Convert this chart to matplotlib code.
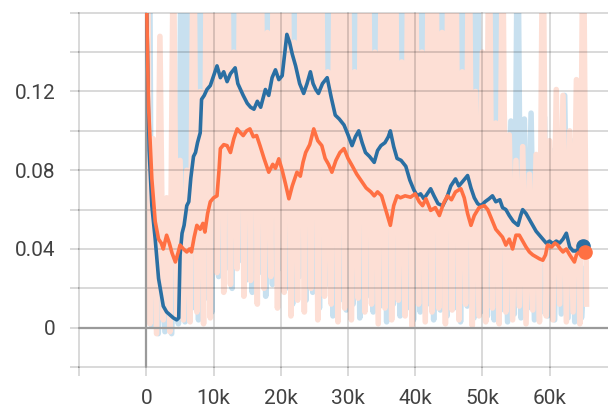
# -------------------------------------------------------------
# Import libraries
# -------------------------------------------------------------
import numpy as np
import matplotlib
matplotlib.use("Agg")
import matplotlib.pyplot as plt


# -------------------------------------------------------------
# Data (steps in thousands)
# -------------------------------------------------------------

# smoothed curves
blue_steps = [0, 0.4, 0.8, 1.3, 1.8, 2.5, 3.0, 3.5, 4.0, 4.5, 4.8, 5.0, 5.3, 5.6, 6.0, 6.3,
              6.6, 7.0, 7.3, 7.6, 8.0, 8.2, 8.6, 9.0, 9.5, 10.0, 10.5, 11.0, 11.5, 12.0,
              12.5, 13.2, 13.6, 14.0, 14.4, 15.0, 15.5, 16.0, 16.5, 17.0, 17.7, 18.2, 18.7,
              19.2, 19.7, 20.2, 20.6, 20.9, 21.3, 21.7, 22.2, 22.8, 23.4, 23.9, 24.4, 24.8,
              25.2, 25.6, 26.2, 26.9, 27.5, 28.1, 28.7, 29.4, 30.0, 30.6, 31.1, 31.6, 32.1,
              32.6, 33.2, 33.9, 34.4, 34.9, 35.5, 36.0, 36.3, 36.8, 37.3, 37.9, 38.6, 39.2,
              39.8, 40.3, 40.8, 41.3, 41.8, 42.3, 42.8, 43.4, 44.1, 44.7, 45.3, 46.0, 46.5,
              47.0, 47.8, 48.3, 48.8, 49.3, 49.8, 50.4, 51.0, 51.5, 52.0, 52.6, 53.0, 53.5,
              54.0, 54.6, 55.3, 55.7, 56.0, 56.5, 57.0, 57.5, 58.0, 58.5, 59.0, 59.5, 60.0,
              60.5, 61.0, 61.5, 62.0, 62.5, 63.0, 63.5, 64.0, 64.6, 65.0]
blue_smooth = [0.17, 0.09, 0.062, 0.045, 0.025, 0.011, 0.008, 0.0065, 0.005, 0.004, 0.005,
               0.037, 0.048, 0.052, 0.062, 0.064, 0.076, 0.087, 0.089, 0.094, 0.099, 0.116,
               0.118, 0.121, 0.123, 0.128, 0.133, 0.127, 0.130, 0.125, 0.129, 0.132, 0.124,
               0.121, 0.118, 0.114, 0.112, 0.111, 0.115, 0.112, 0.121, 0.118, 0.127, 0.131,
               0.126, 0.128, 0.140, 0.149, 0.145, 0.139, 0.133, 0.124, 0.119, 0.124, 0.130,
               0.124, 0.121, 0.119, 0.124, 0.127, 0.117, 0.108, 0.106, 0.103, 0.098, 0.0925,
               0.097, 0.100, 0.094, 0.089, 0.087, 0.084, 0.090, 0.0925, 0.094, 0.097, 0.100,
               0.092, 0.086, 0.085, 0.082, 0.075, 0.070, 0.067, 0.068, 0.0655, 0.068, 0.0706,
               0.067, 0.063, 0.062, 0.066, 0.072, 0.0756, 0.072, 0.074, 0.0773, 0.071, 0.066,
               0.063, 0.062, 0.064, 0.0655, 0.067, 0.064, 0.065, 0.061, 0.060, 0.057, 0.054,
               0.052, 0.057, 0.060, 0.058, 0.055, 0.052, 0.049, 0.047, 0.045, 0.043, 0.044,
               0.0427, 0.044, 0.043, 0.045, 0.048, 0.041, 0.039, 0.039, 0.041, 0.0415]

orange_steps = [0, 0.3, 0.8, 1.3, 1.8, 2.2, 2.5, 3.0, 3.4, 3.8, 4.3, 4.7, 5.0, 5.5, 6.0, 6.4,
                6.7, 7.1, 7.5, 8.0, 8.4, 8.7, 9.1, 9.5, 10.0, 10.5, 10.8, 11.0, 11.5, 12.0,
                12.5, 13.0, 13.5, 14.0, 14.4, 14.9, 15.4, 15.9, 16.4, 16.9, 17.5, 18.2, 18.8,
                19.2, 19.7, 20.2, 20.7, 21.2, 21.7, 22.4, 22.9, 23.3, 23.7, 24.3, 24.9, 25.5,
                26.1, 26.6, 27.1, 27.6, 28.2, 28.8, 29.4, 30.0, 30.6, 31.3, 32.1, 32.7, 33.4,
                33.9, 34.4, 35.0, 35.6, 36.3, 36.8, 37.3, 37.8, 38.5, 39.3, 40.0, 40.6, 41.1,
                41.6, 42.3, 43.0, 43.6, 44.2, 44.8, 45.4, 46.0, 46.8, 47.3, 47.8, 48.3, 48.8,
                49.5, 50.3, 50.8, 51.4, 52.0, 52.5, 53.0, 53.5, 54.0, 54.5, 55.0, 55.5, 56.0,
                56.5, 57.0, 57.5, 58.0, 58.5, 59.0, 59.4, 59.7, 60.3, 60.8, 61.2, 61.6, 62.0,
                62.5, 63.0, 63.4, 63.7, 64.0, 64.4, 64.9, 65.3]
orange_smooth = [0.17, 0.113, 0.0756, 0.054, 0.045, 0.043, 0.040, 0.047, 0.043, 0.038, 0.0334,
                 0.038, 0.042, 0.040, 0.0385, 0.040, 0.0385, 0.046, 0.052, 0.050, 0.053,
                 0.0486, 0.058, 0.064, 0.066, 0.067, 0.080, 0.091, 0.093, 0.0925, 0.089, 0.096,
                 0.101, 0.099, 0.0976, 0.100, 0.101, 0.097, 0.0976, 0.0925, 0.086, 0.079, 0.083,
                 0.081, 0.0858, 0.080, 0.073, 0.0655, 0.072, 0.079, 0.077, 0.084, 0.089, 0.093,
                 0.101, 0.095, 0.0925, 0.086, 0.083, 0.079, 0.085, 0.089, 0.091, 0.086, 0.0824,
                 0.078, 0.074, 0.071, 0.069, 0.067, 0.069, 0.067, 0.060, 0.052, 0.062, 0.067,
                 0.066, 0.067, 0.0663, 0.068, 0.064, 0.062, 0.0655, 0.0596, 0.061, 0.057, 0.063,
                 0.067, 0.065, 0.069, 0.0706, 0.066, 0.058, 0.052, 0.057, 0.061, 0.062, 0.060,
                 0.055, 0.050, 0.048, 0.046, 0.042, 0.045, 0.040, 0.047, 0.047, 0.044, 0.041,
                 0.0385, 0.037, 0.036, 0.035, 0.0343, 0.037, 0.042, 0.041, 0.043, 0.042, 0.040,
                 0.0385, 0.040, 0.037, 0.035, 0.0334, 0.037, 0.0385, 0.038, 0.0385]

# raw (unsmoothed) values, logged every 500 steps
orange_raw_steps = np.arange(0, 65.51, 0.5)
orange_raw = [0.30, 0.002, 0.096, -0.003, 0.148, 0.004, 0.066, -0.002, 0.20, 0.006,
              0.085, 0.004, 0.08, 0.003, 0.23, 0.008, 0.12, 0.002, 0.23, 0.005,
              0.24, 0.028, 0.21, 0.018, 0.25, 0.022, 0.14, 0.030, 0.24, 0.016,
              0.22, 0.024, 0.26, 0.012, 0.23, 0.020, 0.15, 0.026, 0.24, 0.010,
              0.21, 0.018, 0.25, 0.006, 0.145, 0.014, 0.24, 0.008, 0.23, 0.020,
              0.26, 0.004, 0.22, 0.016, 0.13, 0.012, 0.21, 0.003, 0.25, 0.010,
              0.23, 0.004, 0.13, 0.015, 0.25, 0.008, 0.22, 0.012, 0.14, 0.002,
              0.21, 0.010, 0.26, 0.004, 0.23, 0.014, 0.135, 0.006, 0.24, 0.001,
              0.22, 0.012, 0.14, 0.003, 0.21, 0.008, 0.24, 0.010, 0.15, 0.002,
              0.26, 0.009, 0.22, 0.004, 0.13, 0.012, 0.23, 0.001, 0.12, 0.006,
              0.14, 0.003, 0.22, 0.010, 0.104, 0.002, 0.21, 0.008, 0.098, 0.004,
              0.085, 0.011, 0.092, 0.002, 0.078, 0.009, 0.088, 0.003, 0.22, 0.006,
              0.095, 0.004, 0.121, 0.012, 0.118, 0.003, 0.10, 0.008, 0.126, 0.002,
              0.22, 0.012]

blue_raw_steps = np.arange(0.25, 65.26, 0.5)
blue_raw = [0.35, 0.001, 0.05, -0.003, 0.045, -0.002, 0.04, -0.003, 0.06, 0.002,
            0.25, 0.003, 0.22, 0.010, 0.21, 0.004, 0.25, 0.015, 0.23, 0.008,
            0.24, 0.026, 0.22, 0.030, 0.26, 0.020, 0.23, 0.034, 0.21, 0.024,
            0.25, 0.018, 0.22, 0.028, 0.24, 0.016, 0.26, 0.022, 0.21, 0.030,
            0.25, 0.020, 0.23, 0.012, 0.24, 0.026, 0.22, 0.014, 0.25, 0.018,
            0.21, 0.010, 0.24, 0.022, 0.23, 0.006, 0.25, 0.014, 0.22, 0.009,
            0.24, 0.012, 0.22, 0.005, 0.25, 0.016, 0.21, 0.008, 0.23, 0.011,
            0.26, 0.003, 0.22, 0.012, 0.24, 0.006, 0.21, 0.010, 0.23, 0.004,
            0.25, 0.008, 0.22, 0.012, 0.24, 0.004, 0.21, 0.009, 0.25, 0.006,
            0.23, 0.010, 0.24, 0.003, 0.22, 0.011, 0.25, 0.005, 0.22, 0.008,
            0.13, 0.006, 0.24, 0.004, 0.23, 0.009, 0.109, 0.003, 0.105, 0.007,
            0.22, 0.005, 0.106, 0.010, 0.109, 0.004, 0.085, 0.008, 0.107, 0.006,
            0.09, 0.004, 0.10, 0.007, 0.118, 0.005, 0.095, 0.003, 0.092, 0.005, 0.03]

x_ticks = [-10, 0, 10, 20, 30, 40, 50, 60]
x_labels = ["", "0", "10k", "20k", "30k", "40k", "50k", "60k"]
y_ticks = [-0.02, 0, 0.02, 0.04, 0.06, 0.08, 0.10, 0.12, 0.14, 0.16]
y_labels = ["", "0", "", "0.04", "", "0.08", "", "0.12", "", ""]


# -------------------------------------------------------------
# Plot
# -------------------------------------------------------------

def rita():
    plt.rcParams['font.family'] = ['Roboto', 'DejaVu Sans']

    fig = plt.figure(figsize=(6.08, 4.09), dpi=100)
    ax = fig.add_axes([0.1304, 0.1024, 0.8696, 0.8665])

    # raw data first (pale), grid is drawn on top of it
    ax.plot(np.array(blue_raw_steps) * 1000, blue_raw, color='#c8e0ef', lw=4.0, zorder=0.2)
    ax.plot(np.array(orange_raw_steps) * 1000, orange_raw, color='#fddfd5', lw=4.0, zorder=0.3)

    # axis lines at zero
    ax.axhline(0, color='#9a9a9a', lw=1.6, zorder=4)
    ax.axvline(0, color='#9a9a9a', lw=1.6, zorder=4)

    # smoothed curves
    bx = np.array(blue_steps) * 1000
    ox = np.array(orange_steps) * 1000
    ax.plot(bx, blue_smooth, color='#2a6fa3', lw=2.6, zorder=5, solid_joinstyle='round')
    ax.plot(ox, orange_smooth, color='#ff7043', lw=2.6, zorder=6, solid_joinstyle='round')
    ax.plot(bx[-1], blue_smooth[-1], 'o', color='#2a6fa3', ms=9.5, zorder=7)
    ax.plot(ox[-1], orange_smooth[-1], 'o', color='#ff7043', ms=9.5, zorder=8)

    ax.set_xlim(-10000, 68700)
    ax.set_ylim(-0.02, 0.16)
    ax.set_xticks([t * 1000 for t in x_ticks])
    ax.set_xticklabels(x_labels)
    ax.set_yticks(y_ticks)
    ax.set_yticklabels(y_labels)

    for s in ax.spines.values():
        s.set_visible(False)

    ax.set_axisbelow(True)
    ax.grid(True, color='black', alpha=0.19, lw=1.1)
    for ln in ax.xaxis.get_gridlines() + ax.yaxis.get_gridlines():
        ln.set_clip_on(False)

    ax.tick_params(axis='both', direction='out', length=6.5, width=1.1,
                   color=(0, 0, 0, 0.19), labelsize=15, labelcolor='#424242')
    ax.tick_params(axis='y', pad=10.5)
    ax.tick_params(axis='x', pad=9)

    fig.savefig('out.png', dpi=100)


def main():
    rita()


if __name__ == "__main__":
    main()
